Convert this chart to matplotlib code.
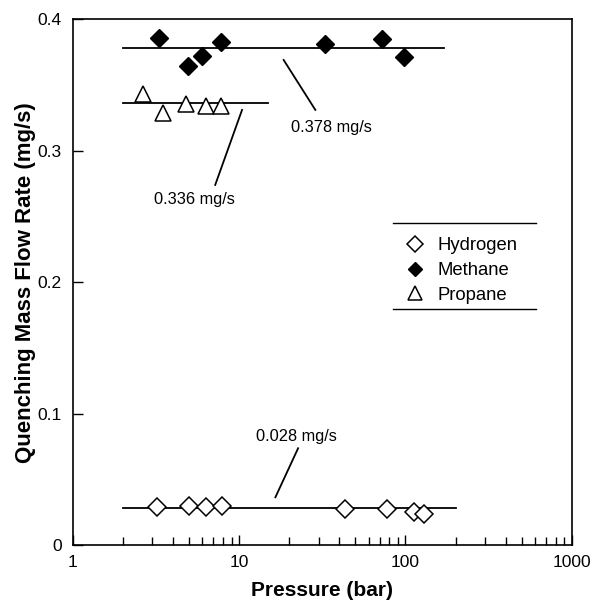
import numpy as np
import matplotlib.pyplot as plt
from matplotlib.ticker import FixedLocator, FixedFormatter, LogLocator, NullFormatter

plt.rcParams['font.family'] = ['Liberation Sans', 'DejaVu Sans']

# Hydrogen
h2_p = [3.2, 5.0, 6.3, 7.9, 43.5, 77, 112, 130]
h2_q = [0.0287, 0.0297, 0.0287, 0.0297, 0.0274, 0.0274, 0.0253, 0.0238]
# Methane
ch4_p = [3.3, 4.9, 6.0, 7.8, 32.6, 72, 98]
ch4_q = [0.3856, 0.3648, 0.3724, 0.383, 0.3815, 0.385, 0.371]
# Propane
c3_p = [2.65, 3.5, 4.8, 6.3, 7.8]
c3_q = [0.343, 0.329, 0.3354, 0.334, 0.334]

# mean values and fit ranges
means = [0.028, 0.378, 0.336]
ranges = [(2, 200), (2, 170), (2, 15)]
labels = ['0.028 mg/s', '0.378 mg/s', '0.336 mg/s']

fig = plt.figure(figsize=(5.92, 6.01), dpi=100)
ax = fig.add_axes([0.1233, 0.0932, 0.8424, 0.8746])

# mean lines
for m, (a, b) in zip(means, ranges):
    ax.plot([a, b], [m, m], color='black', lw=1.3, zorder=1)

ax.plot(h2_p, h2_q, ls='none', marker='D', ms=9.3, mfc='white', mec='black',
        mew=1.1, label='Hydrogen', zorder=3)
ax.plot(ch4_p, ch4_q, ls='none', marker='D', ms=8.8, mfc='black', mec='black',
        label='Methane', zorder=3)
ax.plot(c3_p, c3_q, ls='none', marker='^', ms=12, mfc='white', mec='black',
        mew=1.1, label='Propane', zorder=3)

# leader lines and labels
ax.plot([16.5, 22.6], [0.0363, 0.0736], color='black', lw=1.3)
ax.text(22.0, 0.0824, labels[0], ha='center', va='center', fontsize=11.8)
ax.plot([18.5, 28.7], [0.3691, 0.3311], color='black', lw=1.3)
ax.text(35.8, 0.3174, labels[1], ha='center', va='center', fontsize=11.8)
ax.plot([10.4, 7.17], [0.3311, 0.274], color='black', lw=1.3)
ax.text(5.36, 0.2626, labels[2], ha='center', va='center', fontsize=11.8)

ax.set_xscale('log')
ax.set_xlim(1, 1000)
ax.set_ylim(0, 0.4)
ax.xaxis.set_major_locator(FixedLocator([1, 10, 100, 1000]))
ax.xaxis.set_major_formatter(FixedFormatter(['1', '10', '100', '1000']))
ax.xaxis.set_minor_locator(LogLocator(base=10, subs=np.arange(2, 10)))
ax.xaxis.set_minor_formatter(NullFormatter())
ax.yaxis.set_major_locator(FixedLocator([0, 0.1, 0.2, 0.3, 0.4]))
ax.yaxis.set_major_formatter(FixedFormatter(['0', '0.1', '0.2', '0.3', '0.4']))
ax.tick_params(which='both', direction='in', top=False, right=False,
               labelsize=12.5, width=1, color='black')
ax.tick_params(which='major', length=7)
ax.tick_params(axis='y', pad=8)
ax.tick_params(axis='x', pad=7)
ax.tick_params(which='minor', length=6)
for s in ax.spines.values():
    s.set_linewidth(1.2)

ax.set_xlabel('Pressure (bar)', fontsize=15, fontweight='bold', labelpad=8)
ax.set_ylabel('Quenching Mass Flow Rate (mg/s)', fontsize=16, fontweight='bold',
              labelpad=1)

# legend with rules above and below
ax.axhline(0.2453, xmin=0.642, xmax=0.928, color='black', lw=1)
ax.axhline(0.1794, xmin=0.642, xmax=0.928, color='black', lw=1)
ax.legend(loc='upper left', bbox_to_anchor=(0.645, 0.603), frameon=False,
          fontsize=13.3, handlelength=1.2, handletextpad=0.61, labelspacing=0.42,
          markerscale=0.85, borderpad=0)

plt.savefig('out.png', dpi=100)
